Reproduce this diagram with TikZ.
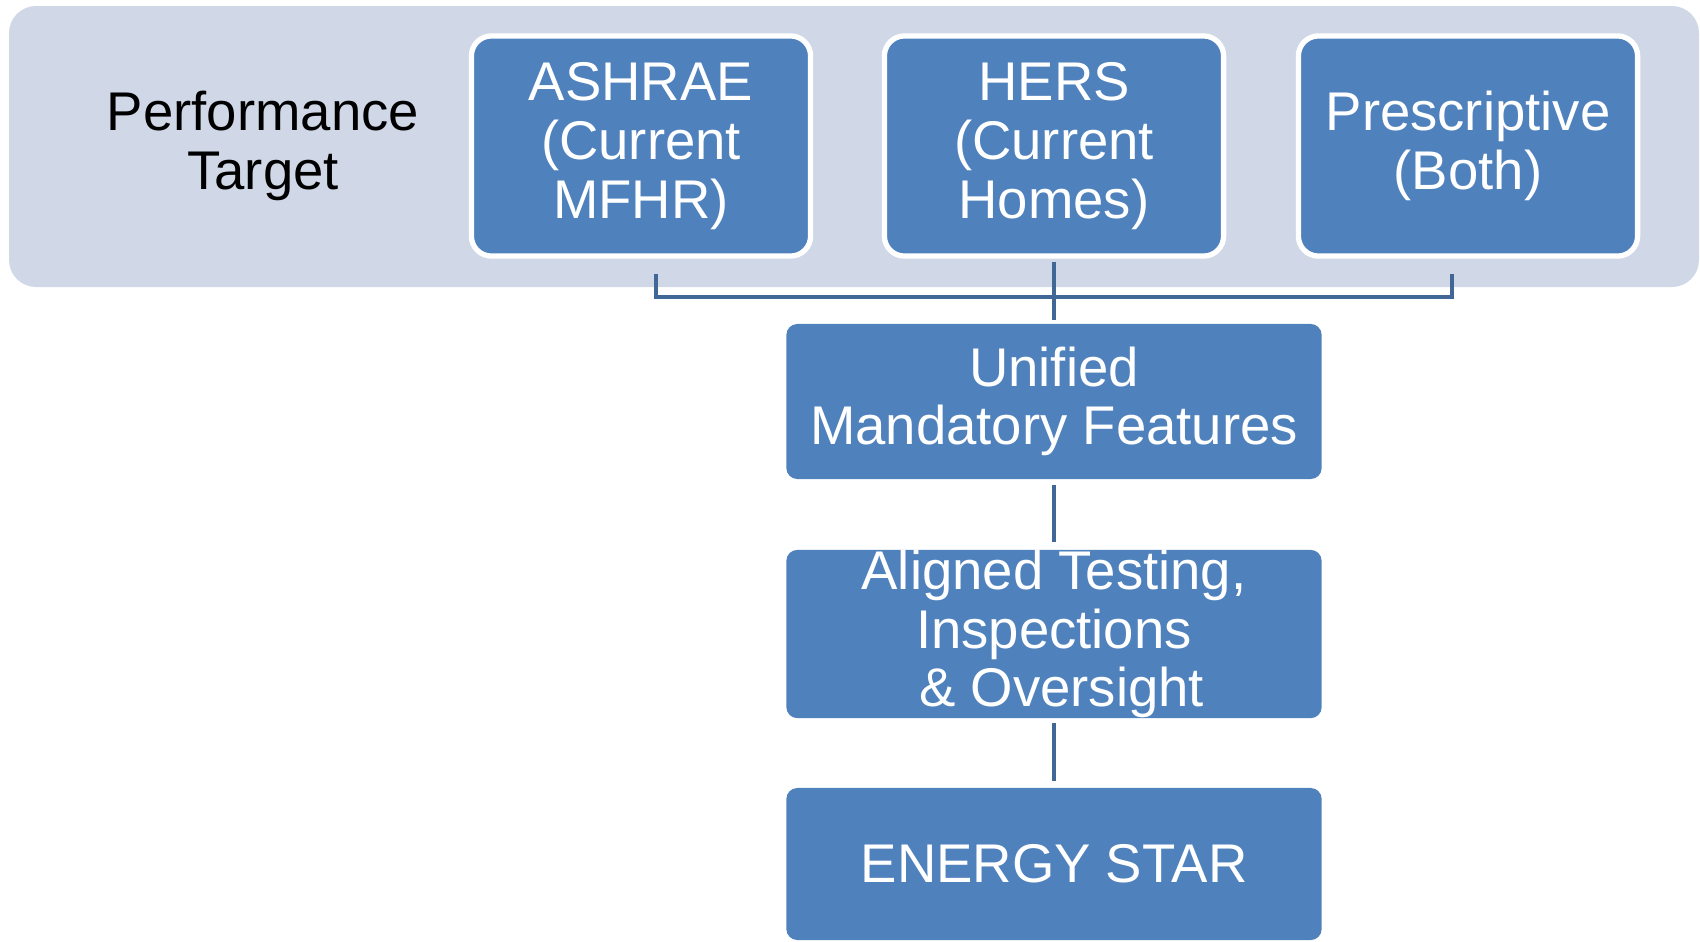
\documentclass[tikz,border=0pt]{standalone}
\usepackage{fontspec}
\setmainfont{Liberation Sans}
\definecolor{panelgray}{RGB}{208,216,232}
\definecolor{boxblue}{RGB}{79,129,189}
\definecolor{linkblue}{RGB}{65,103,150}
\begin{document}
\begin{tikzpicture}[x=0.01cm, y=-0.01cm,
  target/.style={draw=white, line width=1.5pt, fill=boxblue, rounded corners=0.2cm,
    text=white, align=center, inner sep=0pt, minimum width=3.39cm, minimum height=2.2cm,
    font=\fontsize{15.5}{16.8}\selectfont},
  level/.style={fill=boxblue, rounded corners=0.11cm, text=white, align=center,
    inner sep=0pt, minimum width=5.35cm, font=\fontsize{15.5}{16.7}\selectfont},
  link/.style={draw=linkblue, line width=1.4pt}]
\useasboundingbox (0,0) rectangle (1700,941);
% performance targets
\draw [rounded corners=0.27cm, fill=panelgray, draw=none] (9,6) rectangle (1699,287);
\node (perf) at (263,146) [align=center, font=\fontsize{15.5}{16.8}\selectfont] {Performance\\Target};
\node (ashrae) at (641,146) [target] {ASHRAE\\(Current\\MFHR)};
\node (hers) at (1054,146) [target] {HERS\\(Current\\Homes)};
\node (presc) at (1468,146) [target] {Prescriptive\\(Both)};
% stack below
\node (unified) at (1054,401.5) [level, minimum height=1.55cm] {Unified\\Mandatory Features};
\node (aligned) at (1054,634) [level, minimum height=1.66cm] {Aligned Testing,\\Inspections\\\ \& Oversight};
\node (estar) at (1054,864) [level, minimum height=1.52cm] {ENERGY STAR};
% connectors
\coordinate (bl) at (656,274);
\coordinate (br) at (1452,274);
\coordinate (bar) at (1054,297);
\draw [link] (bl) |- (bar) -| (br);
\draw [link, shorten <=0.03cm, shorten >=0.03cm] (hers) -- (unified);
\draw [link, shorten <=0.05cm, shorten >=0.07cm] (unified) -- (aligned);
\draw [link, shorten <=0.04cm, shorten >=0.06cm] (aligned) -- (estar);
\end{tikzpicture}
\end{document}
